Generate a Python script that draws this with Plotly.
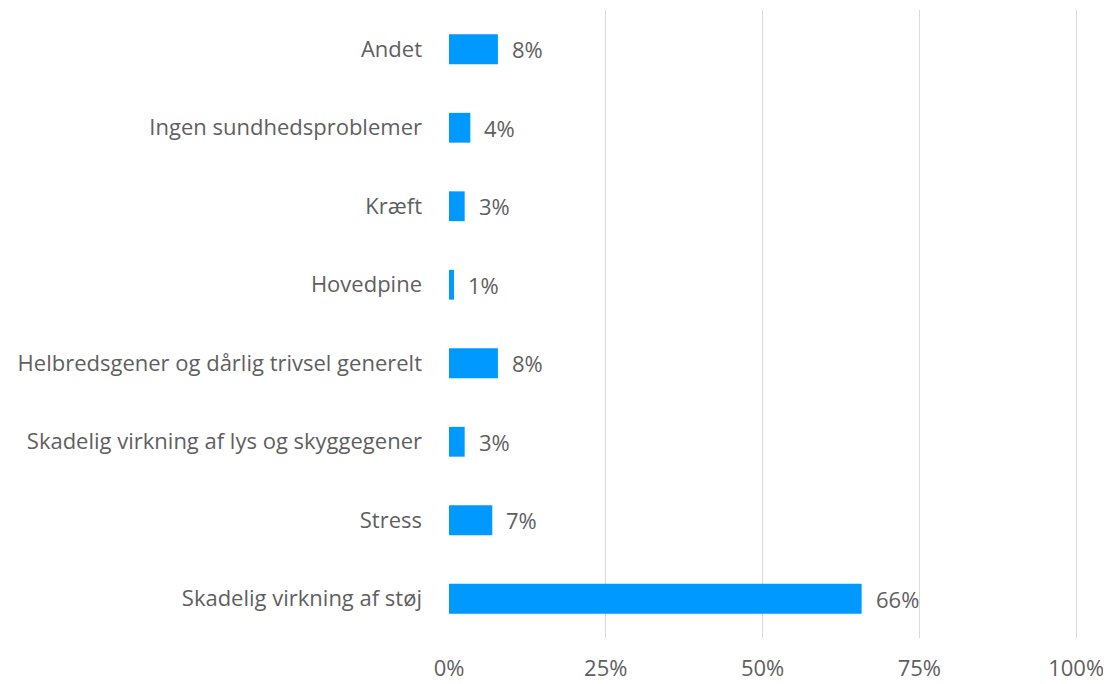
import plotly.graph_objects as go

categories = [
    "Andet",
    "Ingen sundhedsproblemer",
    "Kræft",
    "Hovedpine",
    "Helbredsgener og dårlig trivsel generelt",
    "Skadelig virkning af lys og skyggegener",
    "Stress",
    "Skadelig virkning af støj",
]
values = [0.078, 0.034, 0.025, 0.008, 0.078, 0.025, 0.069, 0.658]
labels = ["8%", "4%", "3%", "1%", "8%", "3%", "7%", "66%"]
x_ticks = [0, 0.25, 0.5, 0.75, 1.0]
x_tick_labels = ["0%", "25%", "50%", "75%", "100%"]

font_family = "Open Sans, DejaVu Sans, sans-serif"
text_color = "#5F5F5F"
fsize = 22

fig = go.Figure()
fig.add_trace(go.Bar(
    x=values,
    y=categories,
    orientation="h",
    marker=dict(color="#0099FF", line=dict(width=0)),
    hoverinfo="skip",
))

for c, v, t in zip(categories, values, labels):
    fig.add_annotation(
        x=v, y=c, text=t, showarrow=False,
        xanchor="left", yanchor="middle", xshift=12,
        font=dict(family=font_family, size=fsize, color=text_color),
    )

# page body has an 8px margin; figure is sized to fit the 1111x684 window
fig.update_layout(
    width=1103, height=676,
    margin=dict(l=441, r=33, t=2, b=43),
    paper_bgcolor="white",
    plot_bgcolor="white",
    bargap=0.62,
    showlegend=False,
    font=dict(family=font_family, size=fsize, color=text_color),
)
fig.update_xaxes(
    range=[0, 1.003],
    tickvals=x_ticks,
    ticktext=x_tick_labels,
    showgrid=True,
    gridcolor="#D9D9D9",
    gridwidth=1,
    zeroline=False,
    showline=False,
    ticks="",
    ticklabelstandoff=15,
    tickfont=dict(family=font_family, size=fsize, color=text_color),
    fixedrange=True,
)
fig.update_yaxes(
    autorange="reversed",
    showgrid=False,
    zeroline=False,
    showline=False,
    ticks="",
    ticklabelstandoff=26,
    tickfont=dict(family=font_family, size=fsize, color=text_color),
    fixedrange=True,
)

fig.write_html("out.html")
